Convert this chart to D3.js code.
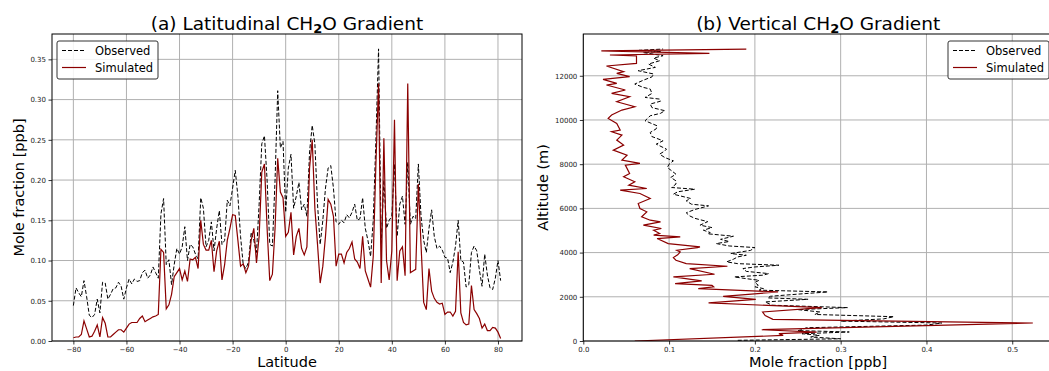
<!DOCTYPE html>
<html><head><meta charset="utf-8">
<script src="https://cdn.jsdelivr.net/npm/d3@7"></script>
<style>
body{margin:0;background:#fff;}
text{font-family:"DejaVu Sans",sans-serif;}
</style></head>
<body><svg id="c" width="1049" height="371"></svg>
<script>
// ---------- DATA ----------
const latitudes = d3.range(-80, 82, 1);
const latObserved = [
0.044,0.066,0.060,0.055,0.075,0.055,0.032,0.029,0.033,0.052,
0.035,0.073,0.072,0.052,0.058,0.065,0.066,0.073,0.068,0.052,
0.066,0.077,0.071,0.077,0.074,0.075,0.085,0.088,0.078,0.082,
0.092,0.085,0.078,0.158,0.177,0.095,0.101,0.070,0.095,0.115,
0.108,0.117,0.142,0.100,0.120,0.117,0.108,0.102,0.178,0.165,
0.117,0.125,0.148,0.112,0.140,0.162,0.120,0.125,0.175,0.168,
0.190,0.212,0.180,0.130,0.095,0.090,0.098,0.135,0.125,0.110,
0.170,0.245,0.255,0.200,0.120,0.118,0.200,0.311,0.240,0.248,
0.160,0.215,0.232,0.165,0.180,0.197,0.163,0.170,0.155,0.235,
0.268,0.245,0.170,0.120,0.150,0.190,0.215,0.218,0.190,0.148,
0.145,0.150,0.147,0.157,0.153,0.160,0.170,0.150,0.152,0.178,
0.140,0.125,0.105,0.150,0.250,0.363,0.120,0.200,0.140,0.150,
0.155,0.220,0.130,0.170,0.180,0.145,0.222,0.145,0.155,0.152,
0.220,0.155,0.125,0.110,0.140,0.163,0.130,0.115,0.118,0.113,
0.104,0.103,0.085,0.098,0.118,0.150,0.100,0.098,0.067,0.070,
0.110,0.118,0.112,0.088,0.068,0.108,0.082,0.066,0.064,0.078,
0.100,0.075];
const latSimulated = [
0.004,0.005,0.005,0.008,0.025,0.015,0.005,0.006,0.012,0.020,
0.005,0.029,0.022,0.005,0.005,0.008,0.011,0.014,0.014,0.011,
0.016,0.021,0.023,0.023,0.023,0.028,0.031,0.024,0.026,0.028,
0.030,0.031,0.033,0.114,0.110,0.040,0.045,0.058,0.080,0.085,
0.090,0.076,0.087,0.074,0.102,0.101,0.104,0.090,0.150,0.120,
0.113,0.113,0.125,0.086,0.112,0.124,0.076,0.095,0.125,0.140,
0.157,0.156,0.125,0.093,0.096,0.085,0.093,0.125,0.140,0.097,
0.130,0.210,0.220,0.140,0.075,0.083,0.140,0.227,0.185,0.178,
0.130,0.135,0.160,0.107,0.130,0.140,0.115,0.107,0.117,0.215,
0.250,0.165,0.120,0.072,0.093,0.130,0.176,0.170,0.155,0.093,
0.108,0.108,0.097,0.110,0.115,0.123,0.102,0.098,0.090,0.130,
0.087,0.077,0.067,0.105,0.220,0.320,0.072,0.252,0.100,0.076,
0.112,0.275,0.075,0.112,0.117,0.081,0.320,0.085,0.087,0.089,
0.195,0.120,0.048,0.039,0.090,0.062,0.053,0.048,0.046,0.047,
0.033,0.036,0.036,0.031,0.037,0.111,0.035,0.023,0.020,0.021,
0.069,0.039,0.034,0.028,0.016,0.021,0.013,0.013,0.017,0.016,
0.011,0.003];

const altObserved = [30,100,180,257,330,408,470,513,600,720,815,900,1000,1100,1200,1313,1420,1510,1620,1767,1887,1950,2023,2120,2220,2300,2370,2450,2521,2650,2748,2820,2899,2980,3050,3150,3277,3350,3428,3500,3579,3700,3805,3880,3956,4100,4228,4300,4409,4500,4600,4741,4850,4906,5013,5132,5240,5400,5550,5660,5800,5950,6114,6190,6340,6450,6642,6750,6868,6944,7100,7246,7400,7550,7699,7850,8001,8152,8300,8454,8600,8680,8907,9058,9250,9435,9600,9737,9965,10190,10300,10420,10560,10720,10850,10945,11020,11200,11400,11474,11625,11800,11950,12080,12230,12380,12530,12680,12800,12910,13050,13100,13150,13210];
const vertObserved = [0.180,0.300,0.265,0.275,0.255,0.310,0.250,0.255,0.260,0.400,0.418,0.300,0.350,0.362,0.270,0.276,0.250,0.308,0.220,0.212,0.262,0.215,0.218,0.250,0.285,0.205,0.210,0.200,0.204,0.200,0.205,0.190,0.176,0.210,0.216,0.190,0.186,0.200,0.228,0.180,0.167,0.175,0.180,0.190,0.172,0.195,0.200,0.170,0.155,0.170,0.160,0.175,0.145,0.148,0.140,0.150,0.136,0.145,0.130,0.124,0.120,0.130,0.146,0.126,0.120,0.125,0.105,0.110,0.130,0.103,0.108,0.108,0.102,0.108,0.103,0.098,0.100,0.105,0.095,0.089,0.095,0.097,0.085,0.093,0.080,0.078,0.085,0.086,0.072,0.078,0.090,0.095,0.080,0.078,0.090,0.089,0.072,0.080,0.078,0.070,0.060,0.070,0.080,0.082,0.064,0.084,0.076,0.089,0.082,0.093,0.070,0.090,0.065,0.093];

const altSimulated = [0,250,330,400,510,815,980,1150,1313,1510,1721,1887,2023,2220,2370,2450,2521,2600,2720,2900,3020,3276,3382,3500,3654,3775,3900,4030,4107,4228,4258,4409,4636,4711,4790,4862,5013,5090,5240,5391,5466,5617,5844,5995,6221,6447,6674,6825,6900,7051,7202,7429,7580,7957,8033,8184,8410,8637,8863,9090,9316,9467,9543,9845,10071,10222,10449,10600,10826,11052,11204,11355,11581,11657,11838,11958,12109,12185,12441,12562,12894,12939,13014,13130,13210];
const vertSimulated = [0.060,0.233,0.228,0.272,0.208,0.524,0.221,0.212,0.209,0.278,0.146,0.201,0.163,0.227,0.134,0.152,0.150,0.107,0.138,0.105,0.153,0.124,0.168,0.120,0.108,0.105,0.110,0.113,0.109,0.133,0.136,0.099,0.086,0.113,0.082,0.089,0.082,0.091,0.070,0.090,0.078,0.068,0.074,0.066,0.064,0.078,0.066,0.043,0.074,0.053,0.060,0.047,0.054,0.049,0.066,0.045,0.051,0.035,0.047,0.039,0.045,0.033,0.043,0.039,0.029,0.033,0.045,0.060,0.039,0.054,0.033,0.049,0.027,0.039,0.023,0.054,0.039,0.047,0.027,0.062,0.062,0.031,0.147,0.021,0.190];

const latTicks = [-80,-60,-40,-20,0,20,40,60,80];
const fracTicksA = [0,0.05,0.10,0.15,0.20,0.25,0.30,0.35];
const fracTicksB = [0,0.1,0.2,0.3,0.4,0.5];
const altTicks = [0,2000,4000,6000,8000,10000,12000];
const seriesNames = ["Observed","Simulated"];
const titles = ["(a) Latitudinal CH", "(b) Vertical CH"];

// ---------- DRAW ----------
const svg = d3.select("#c");
const OBS = "#000", SIM = "#8b0000";
const yTop = 34, yBot = 341;

function panel(x0, x1, xs, ys, xTicks, yTicks, xFmt, yFmt, id) {
  const g = svg.append("g");
  g.append("clipPath").attr("id", id).append("rect")
    .attr("x", x0).attr("y", yTop).attr("width", x1 - x0).attr("height", yBot - yTop);
  g.append("g").selectAll("line").data(xTicks).join("line")
    .attr("x1", d => xs(d)).attr("x2", d => xs(d)).attr("y1", yTop).attr("y2", yBot)
    .attr("stroke", "#b0b0b0").attr("stroke-width", 1);
  g.append("g").selectAll("line").data(yTicks).join("line")
    .attr("y1", d => ys(d)).attr("y2", d => ys(d)).attr("x1", x0).attr("x2", x1)
    .attr("stroke", "#b0b0b0").attr("stroke-width", 1);
  const ax = g.append("g").attr("transform", `translate(0,${yBot})`)
    .call(d3.axisBottom(xs).tickValues(xTicks).tickFormat(xFmt).tickSize(3.5).tickPadding(2.5));
  const ay = g.append("g").attr("transform", `translate(${x0},0)`)
    .call(d3.axisLeft(ys).tickValues(yTicks).tickFormat(yFmt).tickSize(3.5).tickPadding(2.5));
  [ax, ay].forEach(a => {
    a.select(".domain").remove();
    a.selectAll("text").attr("font-size", 7).attr("fill", "#222").style("font-family", "DejaVu Sans");
    a.selectAll("line").attr("stroke", "#000").attr("stroke-width", 0.8);
  });
  return g;
}

function frame(x0, x1) {
  svg.append("rect").attr("x", x0).attr("y", yTop).attr("width", x1 - x0).attr("height", yBot - yTop)
    .attr("fill", "none").attr("stroke", "#000").attr("stroke-width", 1);
}

function title(cx, txt) {
  const t = svg.append("text").attr("x", cx).attr("y", 30).attr("text-anchor", "middle")
    .attr("font-size", 18.5).attr("fill", "#000");
  t.append("tspan").text(txt);
  t.append("tspan").text("2").attr("font-size", 13).attr("font-weight", "bold").attr("dy", 3);
  t.append("tspan").text("O Gradient").attr("dy", -3);
}

function legend(x, y) {
  const g = svg.append("g").attr("transform", `translate(${x},${y})`);
  g.append("rect").attr("x", 0).attr("y", 0).attr("width", 101).attr("height", 38).attr("rx", 2)
    .attr("fill", "#fff").attr("fill-opacity", 0.85).attr("stroke", "#333").attr("stroke-width", 1);
  seriesNames.forEach((n, i) => {
    const yy = 9.5 + i * 17;
    g.append("line").attr("x1", 5).attr("x2", 29).attr("y1", yy).attr("y2", yy)
      .attr("stroke", i ? SIM : OBS).attr("stroke-width", i ? 1.2 : 1)
      .attr("stroke-dasharray", i ? null : "4,2");
    g.append("text").attr("x", 38).attr("y", yy + 4).attr("font-size", 11.5).text(n);
  });
}

// Panel (a)
const ax0 = 52, ax1 = 522;
const xA = d3.scaleLinear().domain([-88.05, 89.05]).range([ax0, ax1]);
const yA = d3.scaleLinear().domain([0, 0.3815]).range([yBot, yTop]);
const gA = panel(ax0, ax1, xA, yA, latTicks, fracTicksA, d3.format("d"), d3.format(".2f"), "clipA");
const lineA = (vals) => d3.line().x((d, i) => xA(latitudes[i])).y(d => yA(d))(vals);
gA.append("path").attr("d", lineA(latObserved)).attr("clip-path", "url(#clipA)")
  .attr("fill", "none").attr("stroke", OBS).attr("stroke-width", 1).attr("stroke-dasharray", "4,2");
gA.append("path").attr("d", lineA(latSimulated)).attr("clip-path", "url(#clipA)")
  .attr("fill", "none").attr("stroke", SIM).attr("stroke-width", 1.2);
frame(ax0, ax1);
title((ax0 + ax1) / 2, titles[0]);
legend(57, 41);
svg.append("text").attr("x", (ax0 + ax1) / 2).attr("y", 367).attr("text-anchor", "middle")
  .attr("font-size", 14.5).text("Latitude");
svg.append("text").attr("transform", `translate(24,${(yTop + yBot) / 2}) rotate(-90)`)
  .attr("text-anchor", "middle").attr("font-size", 14.5).text("Mole fraction [ppb]");

// Panel (b)
const bx0 = 583.3, bx1 = 1053;
const xB = d3.scaleLinear().domain([0, 0.5475]).range([bx0, bx1]);
const yB = d3.scaleLinear().domain([0, 13890]).range([yBot, yTop]);
const gB = panel(bx0, bx1, xB, yB, fracTicksB, altTicks, d3.format(".1f"), d3.format("d"), "clipB");
const lineB = (vals, alts) => d3.line().x(d => xB(d)).y((d, i) => yB(alts[i]))(vals);
gB.append("path").attr("d", lineB(vertObserved, altObserved)).attr("clip-path", "url(#clipB)")
  .attr("fill", "none").attr("stroke", OBS).attr("stroke-width", 1).attr("stroke-dasharray", "4,2");
gB.append("path").attr("d", lineB(vertSimulated, altSimulated)).attr("clip-path", "url(#clipB)")
  .attr("fill", "none").attr("stroke", SIM).attr("stroke-width", 1.2);
frame(bx0, bx1);
title((bx0 + bx1) / 2, titles[1]);
legend(948, 41);
svg.append("text").attr("x", (bx0 + bx1) / 2).attr("y", 367).attr("text-anchor", "middle")
  .attr("font-size", 14.5).text("Mole fraction [ppb]");
svg.append("text").attr("transform", `translate(548,${(yTop + yBot) / 2}) rotate(-90)`)
  .attr("text-anchor", "middle").attr("font-size", 14.5).text("Altitude (m)");
</script></body></html>
